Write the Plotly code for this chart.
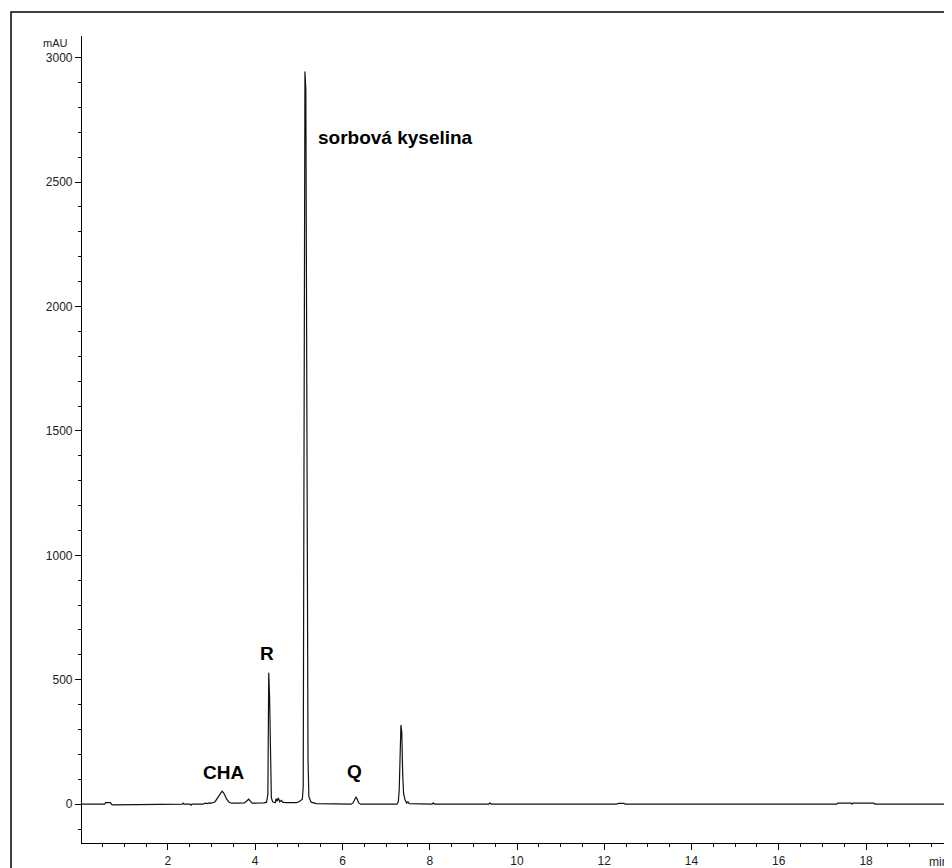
import plotly.graph_objects as go

# Chromatogram points (time in min, signal in mAU)
time_min = [0.03, 0.55, 0.57, 0.68, 0.72, 0.78, 0.80,
            2.33, 2.35, 2.37, 2.50, 2.53, 2.55,
            2.80, 2.85, 2.90, 2.95, 3.00, 3.08, 3.14, 3.20, 3.24, 3.28, 3.34, 3.40, 3.46,
            3.60, 3.75, 3.80, 3.85, 3.89, 3.93,
            4.20, 4.26, 4.29, 4.30, 4.31, 4.33, 4.35, 4.37, 4.40,
            4.46, 4.48, 4.50, 4.53, 4.56, 4.60, 4.63, 4.70, 4.80, 4.95, 5.02,
            5.08, 5.10, 5.14, 5.16, 5.18, 5.21, 5.23, 5.28, 5.40,
            6.20, 6.24, 6.28, 6.31, 6.34, 6.37, 6.42,
            7.25, 7.28, 7.30, 7.34, 7.36, 7.38, 7.40, 7.43, 7.47, 7.50, 7.53,
            8.05, 8.08, 8.11, 9.35, 9.38, 9.41,
            12.28, 12.32, 12.45, 12.48,
            17.33, 17.35, 17.66, 17.68, 17.70, 18.18, 18.20, 19.97]
signal_mau = [0, 0, 6, 6, -3, -3, 0,
              0, 4, 0, 0, -4, 0,
              0, 4, 2, 5, 4, 10, 25, 45, 52, 45, 22, 8, 4,
              4, 5, 12, 20, 12, 4,
              5, 8, 40, 420, 528, 425, 120, 25, 10,
              6, 22, 12, 25, 10, 15, 8, 6, 5, 6, 12,
              20, 69, 2944, 2871, 1390, 183, 30, 8, 2,
              0, 5, 22, 28, 20, 5, 0,
              0, 10, 56, 318, 289, 120, 44, 20, 4, 10, 2,
              0, 5, 0, 0, 5, 0,
              0, 3, 3, 0,
              0, 4, 4, 0, 4, 4, 0, 0]

# Peak labels
peak_names = ["CHA", "R", "sorbová kyselina", "Q"]
peak_label_x = [3.28, 4.28, 5.40, 6.27]
peak_label_y = [128, 604, 2680, 132]

y_tick_vals = [0, 500, 1000, 1500, 2000, 2500, 3000]
x_tick_vals = [2, 4, 6, 8, 10, 12, 14, 16, 18]

fig = go.Figure()
fig.add_trace(go.Scatter(x=time_min, y=signal_mau, mode="lines",
                         line=dict(color="#111111", width=1.2),
                         hoverinfo="skip", showlegend=False))

for i, name in enumerate(peak_names):
    fig.add_annotation(x=peak_label_x[i], y=peak_label_y[i], text="<b>%s</b>" % name,
                       showarrow=False, xanchor="left" if i == 2 else "center",
                       yanchor="middle",
                       font=dict(family="Liberation Sans, Arial", size=19, color="#000000"))

# axis unit labels
fig.add_annotation(xref="paper", yref="paper", x=-0.0138, y=0.9914, text="mAU",
                   showarrow=False, xanchor="right", yanchor="middle",
                   font=dict(family="Liberation Sans, Arial", size=11, color="#222222"))
fig.add_annotation(xref="paper", yref="paper", x=0.971, y=-0.0120, text="min",
                   showarrow=False, xanchor="left", yanchor="top",
                   font=dict(family="Liberation Sans, Arial", size=12, color="#222222"))

# outer frame
fig.add_shape(type="rect", xref="paper", yref="paper",
              x0=-0.0816, x1=1.05, y0=-0.06, y1=1.0296,
              line=dict(color="#000000", width=1.5), fillcolor="rgba(0,0,0,0)", layer="below")

# the page body adds an 8px offset, so the figure is 8px smaller than the window
fig.update_layout(
    width=944, height=860,
    margin=dict(l=74, r=0, t=28, b=20),
    paper_bgcolor="white", plot_bgcolor="white",
    font=dict(family="Liberation Sans, Arial", size=12, color="#222222"),
    xaxis=dict(range=[0.03, 19.97], tickvals=x_tick_vals, ticks="outside", ticklen=6,
               tickwidth=1, tickcolor="#000", showline=True, linecolor="#000", linewidth=1.2,
               showgrid=False, zeroline=False,
               minor=dict(dtick=0.5, tick0=0, ticks="outside", ticklen=3, tickcolor="#000", showgrid=False)),
    yaxis=dict(range=[-156, 3087], tickvals=y_tick_vals, ticks="outside", ticklen=6,
               tickwidth=1, tickcolor="#000", showline=True, linecolor="#000", linewidth=1.2,
               showgrid=False, zeroline=False,
               minor=dict(dtick=100, tick0=0, ticks="outside", ticklen=3, tickcolor="#000", showgrid=False)),
)

fig.write_html("out.html")
